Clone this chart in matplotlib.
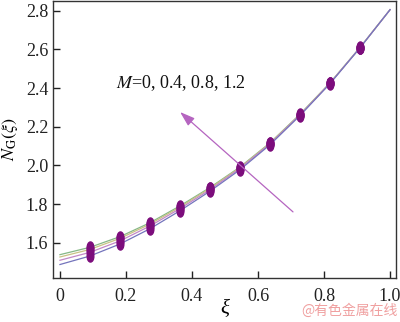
import numpy as np
import matplotlib
matplotlib.use('Agg')
import matplotlib.pyplot as plt
from matplotlib.path import Path

# xi sampled at k/11, k = 0..11
xi = [0, 1/11, 2/11, 3/11, 4/11, 5/11, 6/11, 7/11, 8/11, 9/11, 10/11, 1.0]

# N_G(xi) for M = 1.2, 0.8, 0.4, 0
ng_m12 = [1.539, 1.577, 1.632, 1.704, 1.791, 1.886, 1.992, 2.117, 2.265, 2.427, 2.610, 2.805]
ng_m08 = [1.527, 1.566, 1.623, 1.697, 1.785, 1.882, 1.989, 2.115, 2.263, 2.426, 2.609, 2.805]
ng_m04 = [1.510, 1.551, 1.610, 1.687, 1.777, 1.875, 1.985, 2.112, 2.261, 2.425, 2.609, 2.805]
ng_m00 = [1.488, 1.532, 1.594, 1.673, 1.766, 1.867, 1.978, 2.107, 2.258, 2.423, 2.608, 2.805]

series = [ng_m12, ng_m08, ng_m04, ng_m00]
colors = ['#86b886', '#c9c285', '#c287c6', '#7474bc']

xticks = [0, 0.2, 0.4, 0.6, 0.8, 1.0]
xtick_labels = ['0', '0.2', '0.4', '0.6', '0.8', '1.0']
yticks = [1.6, 1.8, 2.0, 2.2, 2.4, 2.6, 2.8]

plt.rcParams['font.family'] = ['Liberation Serif', 'DejaVu Serif']
plt.rcParams['mathtext.fontset'] = 'stix'

# tall ellipse marker
circ = Path.unit_circle()
ellipse = Path(circ.vertices * np.array([0.6, 1.0]), circ.codes)

fig = plt.figure(figsize=(4, 3.22), dpi=100)
ax = fig.add_axes([0.1325, 0.137, 0.8575, 0.86])

for ys, c in zip(series, colors):
    ax.plot(xi, ys, color=c, lw=0.9, zorder=2)
for ys in series:
    ax.plot(xi[1:-1], ys[1:-1], ls='none', marker=ellipse, ms=8,
            color='#7c0d7c', mec='#7c0d7c', zorder=3)

# arrow showing increasing M
ax.annotate('', xy=(0.364, 2.276), xytext=(0.706, 1.760),
            arrowprops=dict(arrowstyle='-|>,head_length=0.9,head_width=0.3',
                            color='#b565c0', lw=0.9, shrinkA=0, shrinkB=0))
ax.text(0.17, 2.40, r'$M$=0, 0.4, 0.8, 1.2', fontsize=13, color='#111111')

ax.set_xlim(-0.021, 1.018)
ax.set_ylim(1.419, 2.85)
ax.set_xticks(xticks)
ax.set_xticklabels(xtick_labels)
ax.set_yticks(yticks)
ax.tick_params(direction='in', length=5, width=1, labelsize=13, colors='#222222')
ax.tick_params(axis='x', pad=7)
for s in ax.spines.values():
    s.set_color('#333333')
    s.set_linewidth(1.0)

ax.set_xlabel('ξ', fontsize=15, style='italic', labelpad=-3)
ax.set_ylabel(r'$N_{\rm G}(\xi)$', fontsize=13, labelpad=4)

fig.text(0.995, 0.012, '@有色金属在线', ha='right', va='bottom', fontsize=10,
         color='#f0a0a0', family=['Noto Sans CJK SC', 'DejaVu Sans'])

fig.savefig('out.png', dpi=100)
